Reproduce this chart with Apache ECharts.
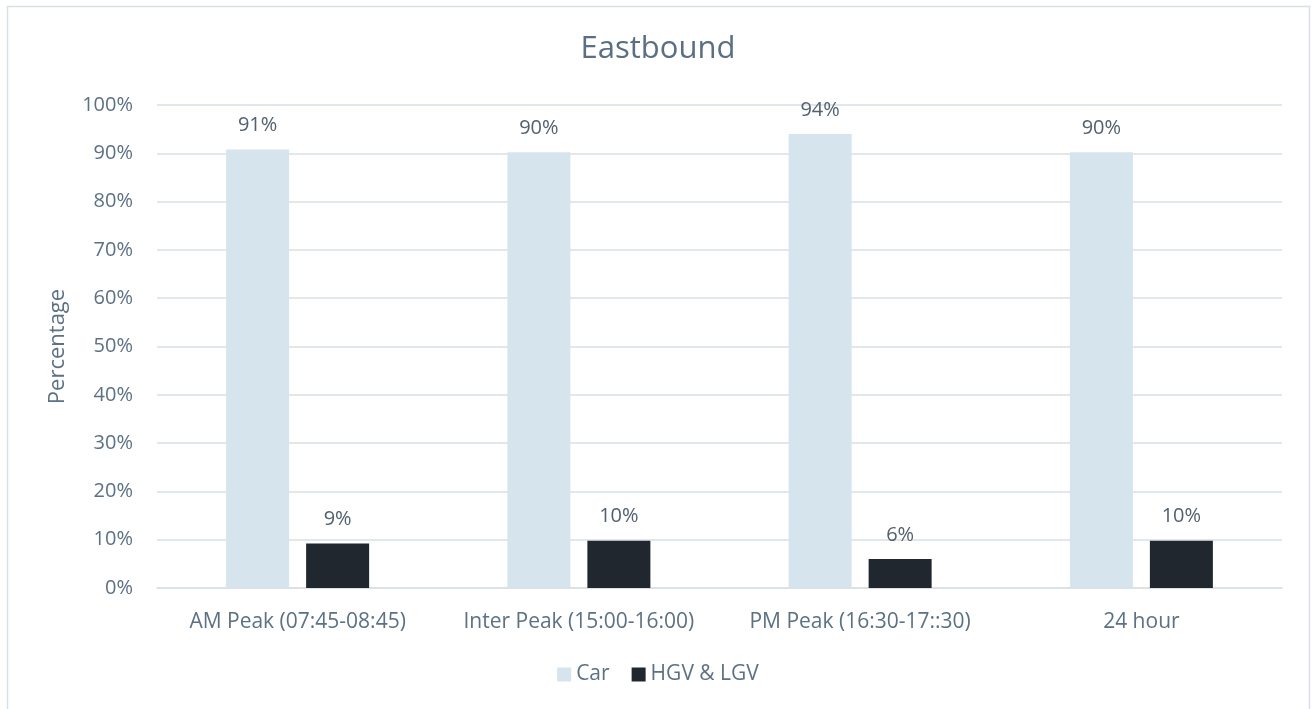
<!DOCTYPE html>
<html><head><meta charset="utf-8">
<script src="https://cdn.jsdelivr.net/npm/echarts@6/dist/echarts.min.js"></script>
<style>html,body{margin:0;padding:0;background:#fff;}#c{width:1316px;height:709px;}</style>
</head><body><div id="c"></div>
<script>
const categories = ['AM Peak (07:45-08:45)', 'Inter Peak (15:00-16:00)', 'PM Peak (16:30-17::30)', '24 hour'];
const carValues = [90.8, 90.2, 94.0, 90.2];
const hgvValues = [9.2, 9.8, 6.0, 9.8];
const carLabels = ['91%', '90%', '94%', '90%'];
const hgvLabels = ['9%', '10%', '6%', '10%'];
const yTicks = [0,10,20,30,40,50,60,70,80,90,100];

const txt = '#5D7184';
const font = 'Open Sans';
const chart = echarts.init(document.getElementById('c'));
chart.setOption({
  animation: false,
  backgroundColor: '#fff',
  graphic: [{type:'rect', shape:{x:7.5,y:6.5,width:1302,height:720}, style:{fill:'none', stroke:'#D9DFE5', lineWidth:1.5}, silent:true}],
  title: {text:'Eastbound', left:'center', top:29, textStyle:{fontFamily:font, fontSize:31, fontWeight:'normal', color:'#5A6F83'}},
  legend: {top:659, left:'center', itemWidth:14, itemHeight:14, itemGap:22, icon:'rect',
    textStyle:{fontFamily:font, fontSize:21, color:txt}, data:['Car','HGV & LGV']},
  grid: {left:157, right:34, top:105, bottom:121},
  xAxis: {type:'category', data:categories, axisTick:{show:false},
    axisLine:{lineStyle:{color:'#D9DFE5', width:1.5}},
    axisLabel:{fontFamily:font, fontSize:21, color:txt, margin:24, interval:0}},
  yAxis: {type:'value', min:0, max:100, interval:10, name:'Percentage', nameLocation:'middle', nameGap:88,
    nameTextStyle:{fontFamily:font, fontSize:22, color:txt},
    axisLabel:{fontFamily:font, fontSize:20, color:txt, margin:24, formatter: v => v + '%'},
    splitLine:{lineStyle:{color:'#D9DFE5', width:1.5}}, axisLine:{show:false}, axisTick:{show:false}},
  series: [
    {name:'Car', type:'bar', data:carValues, barWidth:63, barGap:'27%', itemStyle:{color:'#D6E4EE'},
      label:{show:true, position:'top', distance:14, fontFamily:font, fontSize:20, color:'#53606E', formatter: p => carLabels[p.dataIndex]}},
    {name:'HGV & LGV', type:'bar', data:hgvValues, barWidth:63, itemStyle:{color:'#21272E'},
      label:{show:true, position:'top', distance:14, fontFamily:font, fontSize:20, color:'#53606E', formatter: p => hgvLabels[p.dataIndex]}}
  ]
});
</script></body></html>
